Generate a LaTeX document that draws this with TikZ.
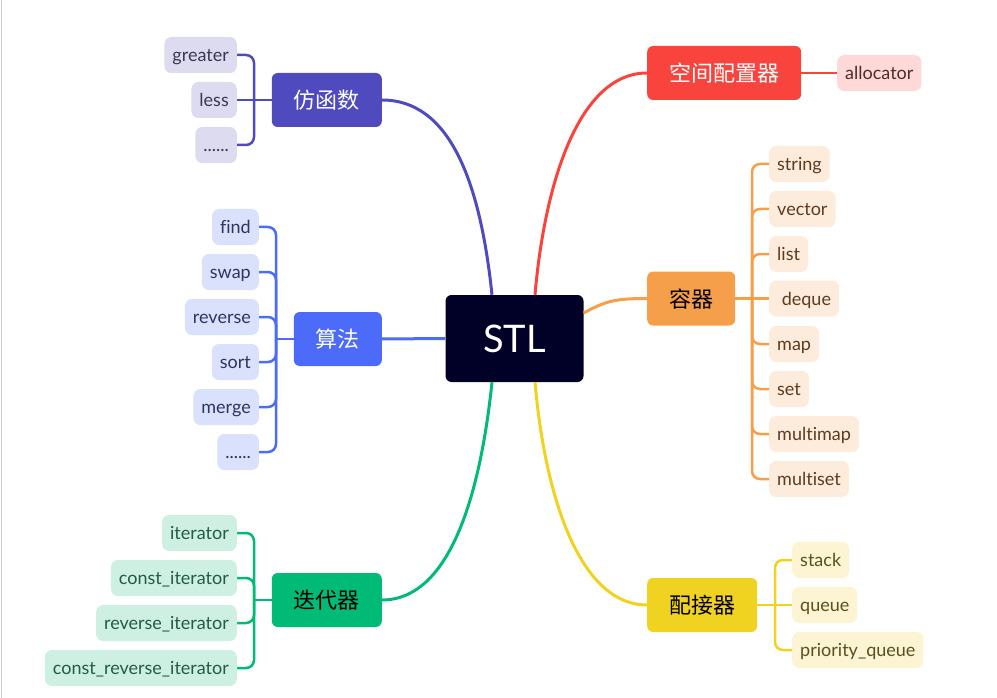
\documentclass[tikz,border=0pt]{standalone}
\usepackage{fontspec}
\setmainfont{Lato}[Ligatures=CommonOff]
\newfontfamily\cjk{Noto Sans CJK SC}
\usepackage{xcolor}
\usepackage{tikz}

\definecolor{stlc}{HTML}{010127}
\definecolor{fhc}{HTML}{4F4BBF}
\definecolor{sfc}{HTML}{4B6BF8}
\definecolor{ddc}{HTML}{00BA76}
\definecolor{kjc}{HTML}{F8443D}
\definecolor{rqc}{HTML}{F59F4A}
\definecolor{pjc}{HTML}{F0D320}
\definecolor{fhl}{HTML}{DCDBF0}
\definecolor{sfl}{HTML}{DAE1FC}
\definecolor{ddl}{HTML}{CDF0E2}
\definecolor{kjl}{HTML}{FED9D8}
\definecolor{rql}{HTML}{FDEBDC}
\definecolor{pjl}{HTML}{FCF4D2}
\definecolor{fht}{HTML}{3B3754}
\definecolor{sft}{HTML}{2E3460}
\definecolor{ddt}{HTML}{245A46}
\definecolor{kjt}{HTML}{4F2B2A}
\definecolor{rqt}{HTML}{5C3B21}
\definecolor{pjt}{HTML}{57511F}

\newcommand\sixdots{......}

\tikzset{
  topic/.style={rounded corners=6pt, minimum height=54pt, inner xsep=22pt,
    font=\cjk\fontsize{22}{26}\selectfont, text height=17pt, text depth=0pt},
  leaf/.style={rounded corners=7pt, minimum height=36pt, inner xsep=8pt,
    font=\fontsize{18}{21}\selectfont, text height=13pt, text depth=0pt},
  link/.style={line width=3pt},
  twig/.style={line width=2.5pt, rounded corners=8pt},
}

\begin{document}
\begin{tikzpicture}[x=1pt, y=-1pt]
    \useasboundingbox (0,0) rectangle (997,698);
    \draw[gray!40, line width=1pt] (1.5,0) -- (1.5,698);

    % centre and topics
    \node[topic, fill=stlc, text=white, minimum width=138pt, minimum height=87pt,
      font=\fontsize{38}{44}\selectfont, text height=27pt] (stl) at (514.5,338.5) {STL};
    \node[topic, fill=fhc, text=white, anchor=east] (functor) at (382,100) {仿函数};
    \node[topic, fill=sfc, text=white, anchor=east] (algo) at (382,339) {算法};
    \node[topic, fill=ddc, text=black, anchor=east] (iter) at (382,600) {迭代器};
    \node[topic, fill=kjc, text=white, anchor=west] (alloc) at (647,73) {空间配置器};
    \node[topic, fill=rqc, text=black, anchor=west] (cont) at (647,298.5) {容器};
    \node[topic, fill=pjc, text=black, anchor=west] (adapt) at (647,605) {配接器};

    \draw[link, fhc] ([xshift=-22.5pt]stl.north) .. controls +(-12,-115) and +(67,0) .. (functor.east);
    \draw[link, sfc] (algo.east) -- (stl.west);
    \draw[link, ddc] ([xshift=-22.5pt]stl.south) .. controls +(-12,115) and +(67,0) .. (iter.east);
    \draw[link, kjc] ([xshift=20.5pt]stl.north) .. controls +(10,-115) and +(-67,0) .. (alloc.west);
    \draw[link, rqc] ([yshift=25.5pt]stl.east) .. controls +(22,-12) and +(-32,0) .. (cont.west);
    \draw[link, pjc] ([xshift=20.5pt]stl.south) .. controls +(10,115) and +(-67,0) .. (adapt.west);

    % functor leaves
    \foreach \n/\t/\y in {greater/greater/55, less/less/100, fetc/\sixdots/145}
      \node[leaf, fill=fhl, text=fht, anchor=east] (\n) at (237,\y) {\t};
    \coordinate (functor-j) at (254,100);
    \foreach \n in {greater, fetc} \draw[twig, fhc] (\n.east) -| (functor-j);
    \draw[twig, fhc] (less.east) -- (functor-j) -- (functor.west);

    % algorithm leaves
    \foreach \n/\t/\y in {find/find/227, swap/swap/272, rev/reverse/317, sort/sort/362,
        merge/merge/407, aetc/\sixdots/452}
      \node[leaf, fill=sfl, text=sft, anchor=east] (\n) at (259,\y) {\t};
    \coordinate (algo-j) at (276,339);
    \foreach \n in {find, swap, rev, sort, merge, aetc} \draw[twig, sfc] (\n.east) -| (algo-j);
    \draw[twig, sfc] (algo-j) -- (algo.west);

    % iterator leaves
    \foreach \n/\t/\y in {it/iterator/533, cit/const\_iterator/578, rit/reverse\_iterator/623,
        crit/const\_reverse\_iterator/668}
      \node[leaf, fill=ddl, text=ddt, anchor=east] (\n) at (237,\y) {\t};
    \coordinate (iter-j) at (254,600);
    \foreach \n in {it, cit, rit, crit} \draw[twig, ddc] (\n.east) -| (iter-j);
    \draw[twig, ddc] (iter-j) -- (iter.west);

    % allocator leaf
    \node[leaf, fill=kjl, text=kjt, anchor=west] (allocator) at (837,73) {allocator};
    \draw[twig, kjc] (alloc.east) -- (allocator.west);

    % container leaves
    \foreach \n/\t/\y in {string/string/164, vector/vector/209, list/list/254, deque/\ deque/298.5,
        map/map/344, set/set/389, mmap/multimap/434, mset/multiset/479}
      \node[leaf, fill=rql, text=rqt, anchor=west] (\n) at (769,\y) {\t};
    \coordinate (cont-j) at (752,298.5);
    \foreach \n in {string, vector, list, map, set, mmap, mset} \draw[twig, rqc] (\n.west) -| (cont-j);
    \draw[twig, rqc] (cont.east) -- (cont-j) -- (deque.west);

    % adapter leaves
    \foreach \n/\t/\y in {stack/stack/560, queue/queue/605, pq/priority\_queue/650}
      \node[leaf, fill=pjl, text=pjt, anchor=west] (\n) at (792,\y) {\t};
    \coordinate (adapt-j) at (775,605);
    \foreach \n in {stack, pq} \draw[twig, pjc] (\n.west) -| (adapt-j);
    \draw[twig, pjc] (adapt.east) -- (adapt-j) -- (queue.west);
\end{tikzpicture}
\end{document}
